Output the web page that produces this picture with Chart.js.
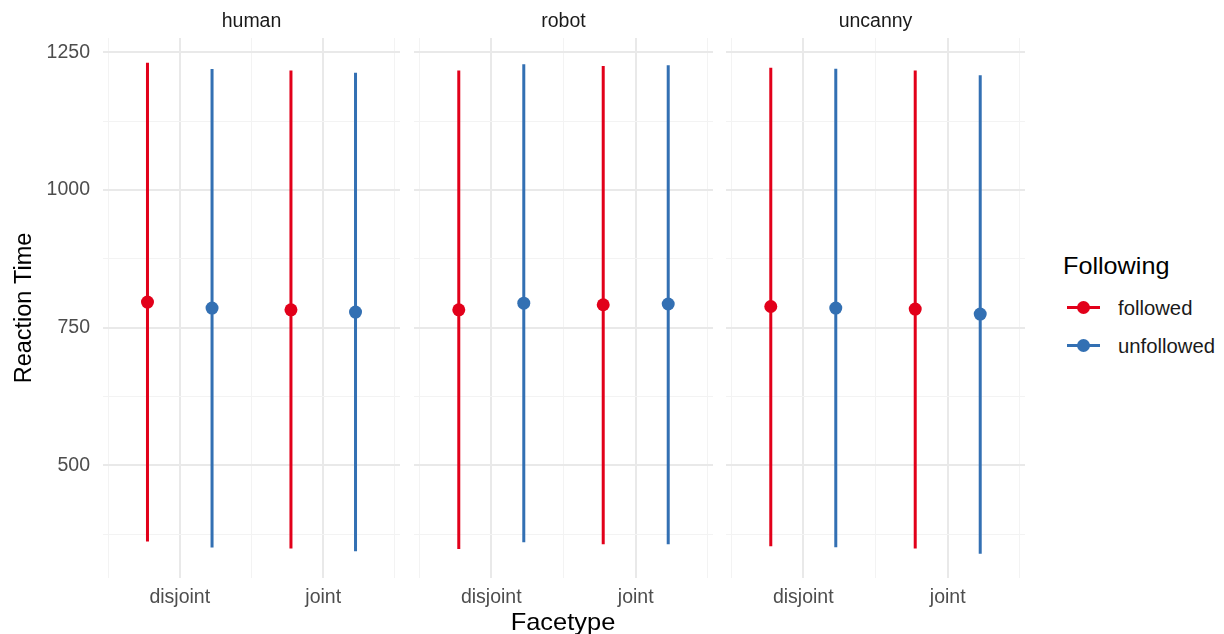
<!DOCTYPE html>
<html>
<head>
<meta charset="utf-8">
<script src="https://cdn.jsdelivr.net/npm/chart.js@4.4.1/dist/chart.umd.min.js"></script>
<style>
  html, body { margin: 0; padding: 0; background: #fff; }
  #wrap { position: relative; width: 1224px; height: 634px; overflow: hidden;
          font-family: "Liberation Sans", Arial, sans-serif; }
  .panel { position: absolute; top: 0; }
  .panel canvas { display: block; }
  .txt { position: absolute; white-space: nowrap; transform-origin: left center; }
  #xtitle { left: 463px; width: 200px; text-align: center; top: 610px;
            font-size: 24px; line-height: 24px; color: #000;
            transform-origin: center center; transform: scaleX(1.06); }
  #ltitle { left: 1063px; top: 254px; font-size: 24px; line-height: 24px; color: #000; transform: scaleX(1.05); }
  .lkey { position: absolute; left: 1067px; width: 33px; height: 3px; }
  .ldot { position: absolute; left: 1077px; width: 13px; height: 13px; border-radius: 50%; }
  .llab { left: 1118px; font-size: 19.5px; line-height: 20px; color: #1a1a1a; transform: scaleX(1.04); }
</style>
</head>
<body>
<div id="wrap">
  <div class="panel" style="left:0px;width:400px;height:610px"><canvas id="c0" width="400" height="610"></canvas></div>
  <div class="panel" style="left:414px;width:299px;height:610px"><canvas id="c1" width="299" height="610"></canvas></div>
  <div class="panel" style="left:726px;width:299px;height:610px"><canvas id="c2" width="299" height="610"></canvas></div>
  <div id="xtitle" class="txt">Facetype</div>
  <div id="legend"></div>
</div>
<script>
// facets, x categories and groups
const facets = ['human', 'robot', 'uncanny'];
const facetypes = ['disjoint', 'joint'];
const groups = ['followed', 'unfollowed'];

// per facet: [disjoint, joint]
const followedMean = [[796.5, 782.5], [782.5, 791.6], [788.5, 783.8]];
const followedLow  = [[362, 349], [348, 357], [353, 349]];
const followedHigh = [[1231, 1217], [1217, 1225], [1222, 1217]];

const unfollowedMean = [[785.6, 778.3], [794.6, 793], [785.6, 774.7]];
const unfollowedLow  = [[351, 344], [360.5, 357], [351.5, 339.5]];
const unfollowedHigh = [[1219.5, 1213], [1228.5, 1226.5], [1220, 1208.5]];

// axis ticks
const yMajor = [500, 750, 1000, 1250];
const yMinor = [375, 625, 875, 1125];
const xMajor = [1, 2];
const xMinor = [0.5, 1.5, 2.5];

const colors = ['#e2001a', '#3370b3'];
const FONT = '"Liberation Sans", Arial, sans-serif';
const DODGE = 0.225;

const seriesMean = [followedMean, unfollowedMean];
const seriesLow = [followedLow, unfollowedLow];
const seriesHigh = [followedHigh, unfollowedHigh];

function buildDatasets(fi) {
  const ds = [];
  groups.forEach((g, gi) => {
    const off = gi === 0 ? -DODGE : DODGE;
    const segs = [];
    facetypes.forEach((ft, ti) => {
      if (ti > 0) segs.push({ x: ti + 0.5, y: null });
      segs.push({ x: ti + 1 + off, y: seriesLow[gi][fi][ti] });
      segs.push({ x: ti + 1 + off, y: seriesHigh[gi][fi][ti] });
    });
    ds.push({
      type: 'line', label: g + ' range', data: segs,
      borderColor: colors[gi], borderWidth: 3, borderCapStyle: 'butt',
      pointRadius: 0, spanGaps: false, tension: 0, order: 2
    });
    ds.push({
      type: 'scatter', label: g, data: facetypes.map((ft, ti) => ({ x: ti + 1 + off, y: seriesMean[gi][fi][ti] })),
      backgroundColor: colors[gi], borderColor: colors[gi], borderWidth: 0,
      pointRadius: 6.5, pointHoverRadius: 6.5, order: 1
    });
  });
  return ds;
}

const gridColor = (isMajor) => isMajor ? '#e9e9e9' : '#f3f3f3';

function makeChart(id, fi, showY) {
  new Chart(document.getElementById(id), {
    type: 'scatter',
    data: { datasets: buildDatasets(fi) },
    options: {
      responsive: false,
      animation: false,
      events: [],
      layout: { padding: 0, autoPadding: false },
      plugins: {
        legend: { display: false },
        tooltip: { enabled: false },
        title: {
          display: true, text: facets[fi], fullSize: false,
          color: '#1a1a1a', font: { family: FONT, size: 19.5, weight: 'normal' },
          padding: { top: 10, bottom: 4.6 }
        }
      },
      scales: {
        x: {
          type: 'linear', min: 0.465, max: 2.535,
          afterBuildTicks: s => { s.ticks = xMinor.concat(xMajor).sort((a, b) => a - b).map(v => ({ value: v })); },
          afterFit: s => { s.height = 32; s.paddingLeft = 0; s.paddingRight = 0; },
          ticks: {
            autoSkip: false, maxRotation: 0, padding: 7.5, color: '#4d4d4d',
            font: { family: FONT, size: 19.5 },
            callback: v => xMajor.includes(v) ? facetypes[v - 1] : ''
          },
          grid: {
            drawTicks: false,
            color: c => gridColor(xMajor.includes(c.tick.value)),
            lineWidth: c => xMajor.includes(c.tick.value) ? 2 : 1
          },
          border: { display: false }
        },
        y: {
          min: 295.5, max: 1276,
          afterBuildTicks: s => { s.ticks = yMinor.concat(yMajor).sort((a, b) => a - b).map(v => ({ value: v })); },
          afterFit: s => { s.width = showY ? 103 : 0; s.paddingTop = 0; s.paddingBottom = 0; },
          ticks: {
            display: showY, padding: 13, color: '#4d4d4d',
            font: { family: FONT, size: 19.5 },
            callback: v => yMajor.includes(v) ? String(v) : ''
          },
          title: {
            display: showY, text: 'Reaction Time', color: '#000',
            font: { family: FONT, size: 23.5, weight: 'normal' },
            padding: { top: 10, bottom: 0 }
          },
          grid: {
            drawTicks: false,
            color: c => gridColor(yMajor.includes(c.tick.value)),
            lineWidth: c => yMajor.includes(c.tick.value) ? 2 : 1
          },
          border: { display: false }
        }
      }
    }
  });
}

makeChart('c0', 0, true);
makeChart('c1', 1, false);
makeChart('c2', 2, false);

// legend for the Following groups
const legend = document.getElementById('legend');
const lt = document.createElement('div');
lt.className = 'txt'; lt.id = 'ltitle'; lt.textContent = 'Following';
legend.appendChild(lt);
const keyY = [307, 345];
groups.forEach((g, gi) => {
  const line = document.createElement('div');
  line.className = 'lkey';
  line.style.top = (keyY[gi] - 1.5) + 'px';
  line.style.background = colors[gi];
  legend.appendChild(line);
  const dot = document.createElement('div');
  dot.className = 'ldot';
  dot.style.top = (keyY[gi] - 6.5) + 'px';
  dot.style.background = colors[gi];
  legend.appendChild(dot);
  const lab = document.createElement('div');
  lab.className = 'txt llab';
  lab.style.top = (keyY[gi] - 9) + 'px';
  lab.textContent = g;
  legend.appendChild(lab);
});
</script>
</body>
</html>
